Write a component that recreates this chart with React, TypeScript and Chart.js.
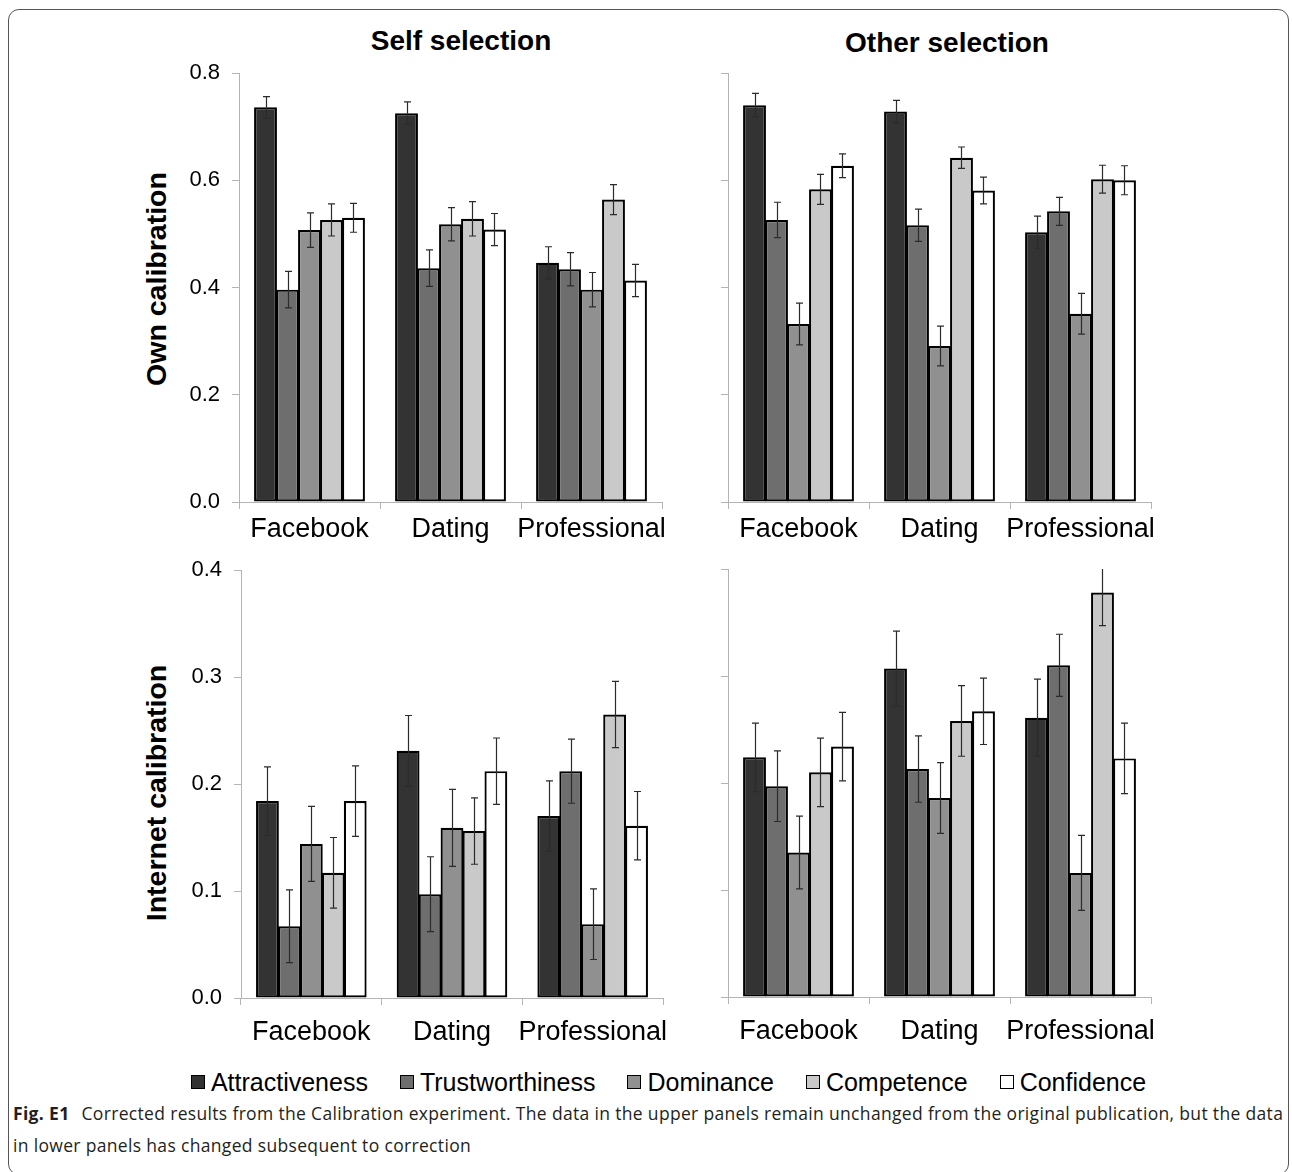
import React, { useEffect, useRef } from "react";
import { Chart, registerables } from "chart.js";

Chart.register(...registerables);

// ---------- data ----------
const categories = ["Facebook", "Dating", "Professional"];
const seriesNames = ["Attractiveness", "Trustworthiness", "Dominance", "Competence", "Confidence"];
const seriesColors = ["#333333", "#6e6e6e", "#909090", "#c9c9c9", "#ffffff"];

const ownTicks = [0, 0.2, 0.4, 0.6, 0.8];
const internetTicks = [0, 0.1, 0.2, 0.3, 0.4];

// rows = series (Attractiveness..Confidence), columns = categories
const selfOwnValues = [
  [0.736, 0.725, 0.446],
  [0.396, 0.436, 0.434],
  [0.507, 0.518, 0.396],
  [0.526, 0.528, 0.564],
  [0.53, 0.508, 0.413],
];
const selfOwnErrors = [
  [0.02, 0.021, 0.03],
  [0.034, 0.034, 0.031],
  [0.032, 0.031, 0.032],
  [0.03, 0.032, 0.028],
  [0.027, 0.03, 0.03],
];

const otherOwnValues = [
  [0.74, 0.728, 0.503],
  [0.526, 0.516, 0.542],
  [0.332, 0.291, 0.351],
  [0.583, 0.642, 0.602],
  [0.627, 0.581, 0.6],
];
const otherOwnErrors = [
  [0.022, 0.021, 0.03],
  [0.033, 0.03, 0.026],
  [0.039, 0.037, 0.038],
  [0.028, 0.02, 0.026],
  [0.022, 0.025, 0.027],
];

const selfInternetValues = [
  [0.184, 0.231, 0.17],
  [0.067, 0.097, 0.212],
  [0.144, 0.159, 0.069],
  [0.117, 0.156, 0.265],
  [0.184, 0.212, 0.161],
];
const selfInternetErrors = [
  [0.032, 0.033, 0.033],
  [0.034, 0.035, 0.03],
  [0.035, 0.036, 0.033],
  [0.033, 0.031, 0.031],
  [0.033, 0.031, 0.032],
];

const otherInternetValues = [
  [0.224, 0.307, 0.261],
  [0.197, 0.213, 0.31],
  [0.135, 0.186, 0.116],
  [0.21, 0.258, 0.378],
  [0.234, 0.267, 0.223],
];
const otherInternetErrors = [
  [0.032, 0.035, 0.036],
  [0.033, 0.031, 0.029],
  [0.034, 0.033, 0.035],
  [0.032, 0.033, 0.031],
  [0.032, 0.031, 0.033],
];

// ---------- helpers ----------
const FONT = "'Liberation Sans', Arial, Helvetica, sans-serif";
const AXIS_GRAY = "#b4b4b4";

const errorBarPlugin = {
  id: "errorBars",
  afterDatasetsDraw(chart: any) {
    const ctx = chart.ctx;
    const yScale = chart.scales.y;
    const area = chart.chartArea;
    ctx.save();
    ctx.beginPath();
    ctx.rect(area.left - 5, area.top, area.right - area.left + 10, area.bottom - area.top);
    ctx.clip();
    ctx.strokeStyle = "#2b2b2b";
    ctx.lineWidth = 1.2;
    chart.data.datasets.forEach((ds: any, i: number) => {
      const meta = chart.getDatasetMeta(i);
      meta.data.forEach((bar: any, j: number) => {
        const v = ds.data[j];
        const e = ds.errors[j];
        const x = Math.round(bar.x) + 0.5;
        const yt = yScale.getPixelForValue(v + e);
        const yb = yScale.getPixelForValue(v - e);
        const cap = 3.5;
        ctx.beginPath();
        ctx.moveTo(x, yt);
        ctx.lineTo(x, yb);
        ctx.moveTo(x - cap, yt);
        ctx.lineTo(x + cap, yt);
        ctx.moveTo(x - cap, yb);
        ctx.lineTo(x + cap, yb);
        ctx.stroke();
      });
    });
    ctx.restore();
  },
};

type PanelProps = {
  left: number;
  top: number;
  right: number;
  bottom: number;
  values: number[][];
  errors: number[][];
  ticks: number[];
  showLabels: boolean;
  xPad: number;
};

const Y_W = 80;
const PAD_TOP = 40;
const PAD_RIGHT = 30;
const X_H = 60;

function Panel(p: PanelProps) {
  const ref = useRef<HTMLCanvasElement | null>(null);
  useEffect(() => {
    if (!ref.current) return;
    const max = p.ticks[p.ticks.length - 1];
    const step = p.ticks[1] - p.ticks[0];
    const chart = new Chart(ref.current, {
      type: "bar",
      data: {
        labels: categories,
        datasets: seriesNames.map((name, i) => ({
          label: name,
          data: p.values[i],
          errors: p.errors[i],
          backgroundColor: seriesColors[i],
          borderColor: "#000000",
          borderWidth: 2.2,
          borderSkipped: false,
          categoryPercentage: 0.78,
          barPercentage: 1.04,
        })) as any,
      },
      options: {
        animation: false,
        responsive: true,
        maintainAspectRatio: false,
        devicePixelRatio: 1,
        layout: { padding: { top: PAD_TOP, right: PAD_RIGHT, left: 0, bottom: 0 } },
        plugins: { legend: { display: false }, tooltip: { enabled: false }, title: { display: false } },
        scales: {
          x: {
            offset: true,
            grid: { offset: true, drawOnChartArea: false, drawTicks: true, tickLength: 7, color: AXIS_GRAY, lineWidth: 1 },
            border: { display: true, color: AXIS_GRAY, width: 1 },
            ticks: { color: "#000", font: { family: FONT, size: 27 }, padding: p.xPad, maxRotation: 0, autoSkip: false },
            afterFit: (s: any) => {
              s.height = X_H;
            },
          },
          y: {
            min: 0,
            max: max,
            grid: { drawOnChartArea: false, drawTicks: true, tickLength: 7, color: AXIS_GRAY, lineWidth: 1 },
            border: { display: true, color: AXIS_GRAY, width: 1 },
            ticks: {
              stepSize: step,
              color: "#000",
              font: { family: FONT, size: 22 },
              padding: 12,
              callback: (v: any) => (p.showLabels ? Number(v).toFixed(1) : ""),
            },
            afterFit: (s: any) => {
              s.width = Y_W;
            },
          },
        },
      },
      plugins: [errorBarPlugin],
    });
    return () => chart.destroy();
  }, []);
  const w = p.right - p.left + Y_W + PAD_RIGHT;
  const h = p.bottom - p.top + PAD_TOP + X_H;
  return (
    <div style={{ position: "absolute", left: p.left - Y_W, top: p.top - PAD_TOP, width: w, height: h }}>
      <canvas ref={ref} />
    </div>
  );
}

const titleStyle: React.CSSProperties = {
  position: "absolute",
  fontFamily: FONT,
  fontWeight: "bold",
  fontSize: 28,
  lineHeight: "28px",
  textAlign: "center",
  whiteSpace: "nowrap",
  color: "#000",
};

function YTitle({ text, cx, cy }: { text: string; cx: number; cy: number }) {
  return (
    <div
      style={{
        ...titleStyle,
        fontSize: 28.5,
        width: 400,
        height: 34,
        lineHeight: "34px",
        left: cx - 200,
        top: cy - 17,
        transform: "rotate(-90deg)",
        transformOrigin: "50% 50%",
      }}
    >
      {text}
    </div>
  );
}

export default function App() {
  useEffect(() => {
    document.body.style.margin = "0";
    document.body.style.overflow = "hidden";
  }, []);
  return (
    <div style={{ position: "relative", width: 1292, height: 1172, background: "#fff", overflow: "hidden" }}>
      <div
        style={{
          position: "absolute",
          left: 8,
          top: 9,
          width: 1281,
          height: 1166,
          border: "1.5px solid #555",
          borderRadius: 11,
          boxSizing: "border-box",
        }}
      />
      <div style={{ ...titleStyle, left: 261, width: 400, top: 27 }}>Self selection</div>
      <div style={{ ...titleStyle, left: 747, width: 400, top: 29 }}>Other selection</div>
      <YTitle text="Own calibration" cx={155.5} cy={279} />
      <YTitle text="Internet calibration" cx={155.5} cy={793} />

      <Panel left={239} top={73} right={662} bottom={502} values={selfOwnValues} errors={selfOwnErrors} ticks={ownTicks} showLabels={true} xPad={4} />
      <Panel left={728} top={73} right={1151} bottom={502} values={otherOwnValues} errors={otherOwnErrors} ticks={ownTicks} showLabels={false} xPad={4} />
      <Panel left={241} top={570} right={663} bottom={998} values={selfInternetValues} errors={selfInternetErrors} ticks={internetTicks} showLabels={true} xPad={11} />
      <Panel left={728} top={569} right={1151} bottom={997} values={otherInternetValues} errors={otherInternetErrors} ticks={internetTicks} showLabels={false} xPad={11} />

      <div
        style={{
          position: "absolute",
          left: 0,
          width: 1337,
          top: 1067,
          height: 30,
          display: "flex",
          justifyContent: "center",
          alignItems: "center",
          gap: 32,
          fontFamily: FONT,
          fontSize: 25,
          color: "#000",
          whiteSpace: "nowrap",
        }}
      >
        {seriesNames.map((n, i) => (
          <div key={n} style={{ display: "flex", alignItems: "center" }}>
            <span
              style={{
                display: "inline-block",
                width: 14,
                height: 14,
                background: seriesColors[i],
                border: "1.5px solid #000",
                boxSizing: "border-box",
                marginRight: 6,
              }}
            />
            <span>{n}</span>
          </div>
        ))}
      </div>

      <div
        style={{
          position: "absolute",
          left: 13,
          top: 1097,
          fontFamily: "'Open Sans', 'Noto Sans', sans-serif",
          fontSize: 17.5,
          letterSpacing: 0.33,
          lineHeight: "32px",
          color: "#231f20",
          whiteSpace: "nowrap",
        }}
      >
        <span style={{ fontWeight: "bold", marginRight: 12 }}>Fig. E1</span>
        Corrected results from the Calibration experiment. The data in the upper panels remain unchanged from the original publication, but the data
        <br />
        in lower panels has changed subsequent to correction
      </div>
    </div>
  );
}
